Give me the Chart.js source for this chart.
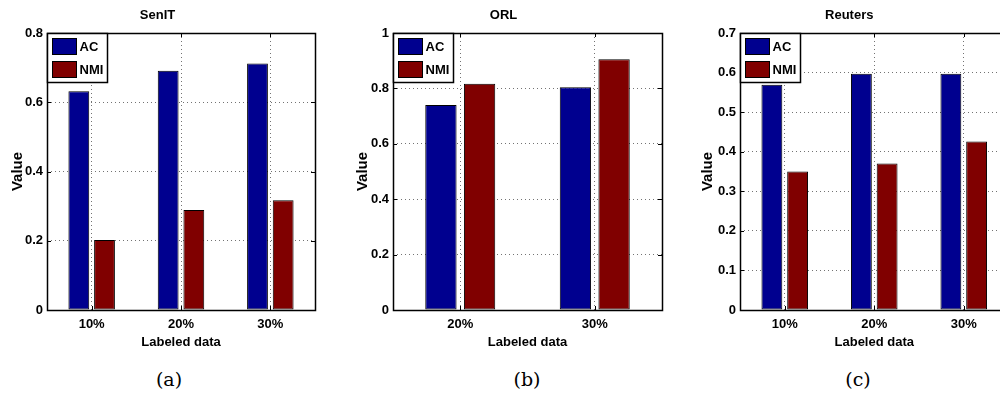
<!DOCTYPE html>
<html>
<head>
<meta charset="utf-8">
<script src="https://cdn.jsdelivr.net/npm/chart.js@4.4.1/dist/chart.umd.min.js"></script>
<style>
  body { margin: 0; width: 1000px; height: 399px; overflow: hidden; background: #fff; position: relative; }
  canvas { position: absolute; top: 0; }
  .cap { position: absolute; top: 368px; font: 19px 'DejaVu Serif', serif; transform: translateX(-50%); color: #000; }
</style>
</head>
<body>
<canvas id="senit" width="330" height="352" style="left:0"></canvas>
<canvas id="orl" width="330" height="352" style="left:345px"></canvas>
<canvas id="reuters" width="330" height="352" style="left:690px"></canvas>
<div class="cap" style="left:169px">(a)</div>
<div class="cap" style="left:527px">(b)</div>
<div class="cap" style="left:858px">(c)</div>
<script>
const seriesNames = ['AC', 'NMI'];
const seriesColors = ['#00008F', '#800000'];

const senitLabels = ['10%', '20%', '30%'];
const senitAC = [0.632, 0.691, 0.712];
const senitNMI = [0.202, 0.289, 0.317];

const orlLabels = ['20%', '30%'];
const orlAC = [0.740, 0.804];
const orlNMI = [0.817, 0.905];

const reutersLabels = ['10%', '20%', '30%'];
const reutersAC = [0.569, 0.597, 0.597];
const reutersNMI = [0.350, 0.370, 0.426];

const FONT = "'Liberation Sans', Arial, Helvetica, sans-serif";
const CANVAS_H = 352;
const PLOT_BOTTOM = 310;

// axes box with inward tick marks, like a matlab frame
const framePlugin = {
    id: 'frame',
    afterDatasetsDraw(chart) {
        const { ctx, chartArea: a, scales } = chart;
        ctx.save();
        ctx.strokeStyle = '#000';
        ctx.lineWidth = 1;
        ctx.beginPath();
        scales.y.ticks.forEach(t => {
            const py = Math.round(scales.y.getPixelForValue(t.value)) + 0.5;
            ctx.moveTo(a.left, py); ctx.lineTo(a.left + 4, py);
            ctx.moveTo(a.right, py); ctx.lineTo(a.right - 4, py);
        });
        scales.x.ticks.forEach((t, i) => {
            const px = Math.round(scales.x.getPixelForTick(i)) + 0.5;
            ctx.moveTo(px, a.bottom); ctx.lineTo(px, a.bottom - 4);
            ctx.moveTo(px, a.top); ctx.lineTo(px, a.top + 4);
        });
        ctx.stroke();
        ctx.lineWidth = 1.5;
        ctx.strokeRect(Math.round(a.left) + 0.5, Math.round(a.top) + 0.5,
            Math.round(a.right - a.left), Math.round(a.bottom - a.top));
        ctx.restore();
    }
};

// boxed legend in the top-left corner of the plot
const boxLegendPlugin = {
    id: 'boxLegend',
    afterDraw(chart) {
        const { ctx, chartArea: a } = chart;
        const L = Math.round(a.left) + 0.5, T = Math.round(a.top) + 0.5;
        ctx.save();
        ctx.fillStyle = '#fff';
        ctx.fillRect(L, T, 60, 49);
        ctx.strokeStyle = '#000';
        ctx.lineWidth = 1.5;
        ctx.strokeRect(L, T, 60, 49);
        ctx.lineWidth = 1;
        ctx.font = "bold 13px " + FONT;
        ctx.textBaseline = 'middle';
        chart.data.datasets.forEach((ds, i) => {
            const y = T + 5 + i * 23;
            ctx.fillStyle = ds.backgroundColor;
            ctx.fillRect(L + 5, y, 24, 16);
            ctx.strokeRect(L + 5, y, 24, 16);
            ctx.fillStyle = '#000';
            ctx.fillText(ds.label, L + 32, y + 9);
        });
        ctx.restore();
    }
};

function drawPanel(id, title, labels, ac, nmi, yMax, yStep, plotLeft, plotRight) {
    const canvas = document.getElementById(id);
    return new Chart(canvas.getContext('2d'), {
        type: 'bar',
        data: {
            labels: labels,
            datasets: [ac, nmi].map((vals, i) => ({
                label: seriesNames[i],
                data: vals,
                backgroundColor: seriesColors[i],
                borderColor: '#000',
                borderWidth: 1,
                borderSkipped: false,
                categoryPercentage: 0.575,
                barPercentage: 0.81
            }))
        },
        options: {
            responsive: false,
            animation: false,
            events: [],
            layout: { padding: { left: 0, right: canvas.width - plotRight, top: 0, bottom: 0 } },
            plugins: {
                legend: { display: false },
                tooltip: { enabled: false },
                title: {
                    display: true,
                    text: title,
                    color: '#000',
                    font: { family: FONT, size: 13, weight: 'bold', lineHeight: 1 },
                    padding: { top: 8.5, bottom: 11.5 }
                }
            },
            scales: {
                x: {
                    afterFit: s => { s.height = CANVAS_H - PLOT_BOTTOM; },
                    grid: { offset: false, drawTicks: false, color: 'rgba(0,0,0,0.55)' },
                    border: { display: false, dash: [1, 3] },
                    ticks: { color: '#000', padding: 7, font: { family: FONT, size: 13, weight: 'bold' } },
                    title: {
                        display: true,
                        text: 'Labeled data',
                        color: '#000',
                        font: { family: FONT, size: 13, weight: 'bold', lineHeight: 1 },
                        padding: { top: 0, bottom: 3.5 }
                    }
                },
                y: {
                    min: 0,
                    max: yMax,
                    afterFit: s => { s.width = plotLeft; },
                    grid: { drawTicks: false, color: 'rgba(0,0,0,0.55)' },
                    border: { display: false, dash: [1, 3] },
                    ticks: {
                        stepSize: yStep,
                        color: '#000',
                        padding: 4,
                        font: { family: FONT, size: 13, weight: 'bold' },
                        callback: v => String(+v.toFixed(2))
                    },
                    title: {
                        display: true,
                        text: 'Value',
                        color: '#000',
                        font: { family: FONT, size: 15, weight: 'bold', lineHeight: 1 },
                        padding: { top: 10, bottom: 0 }
                    }
                }
            }
        },
        plugins: [framePlugin, boxLegendPlugin]
    });
}

drawPanel('senit', 'SenIT', senitLabels, senitAC, senitNMI, 0.8, 0.2, 47, 315);
drawPanel('orl', 'ORL', orlLabels, orlAC, orlNMI, 1, 0.2, 48, 317);
drawPanel('reuters', 'Reuters', reutersLabels, reutersAC, reutersNMI, 0.7, 0.1, 50, 318.5);
</script>
</body>
</html>
